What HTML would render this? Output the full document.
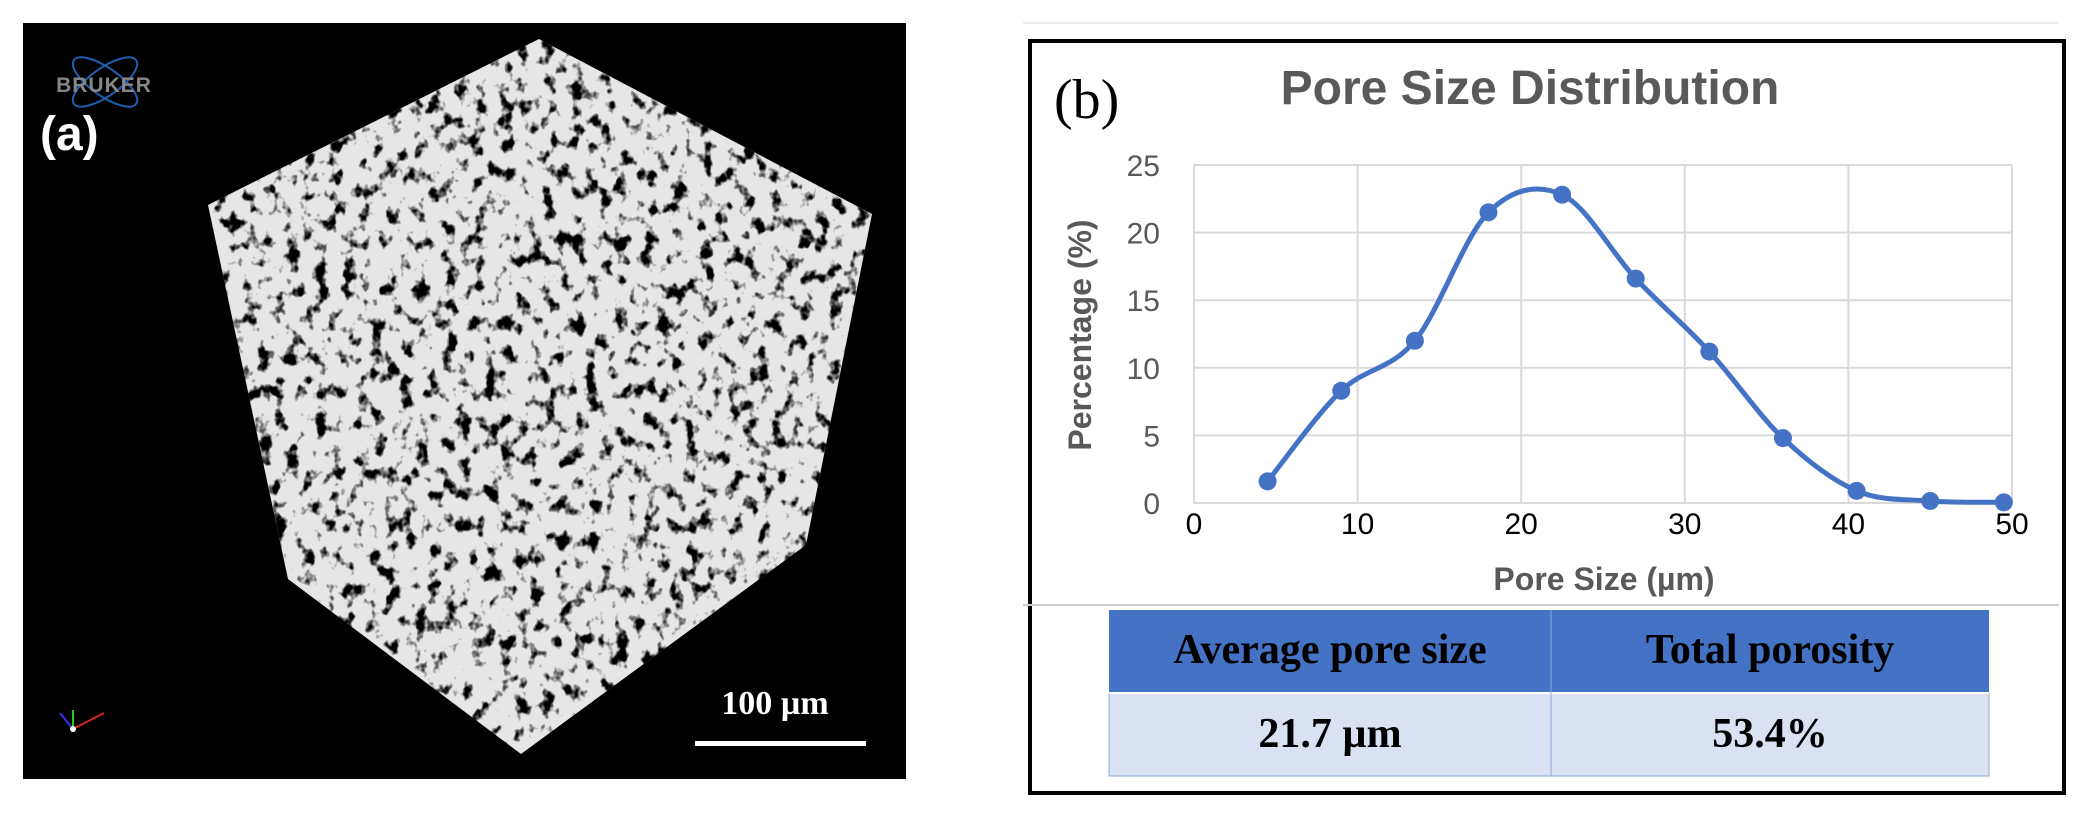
<!DOCTYPE html>
<html><head><meta charset="utf-8"><style>
html,body{margin:0;padding:0;background:#fff;}
body{width:2096px;height:815px;position:relative;overflow:hidden;font-family:"Liberation Sans",sans-serif;}
</style></head><body>
<svg width="2096" height="815" viewBox="0 0 2096 815" xmlns="http://www.w3.org/2000/svg">
<defs>
<filter id="tex" x="0" y="0" width="100%" height="100%">
<feTurbulence type="fractalNoise" baseFrequency="0.07 0.06" numOctaves="3" seed="4" result="n"/>
<feColorMatrix in="n" type="matrix" values="0 0 0 0 0  0 0 0 0 0  0 0 0 0 0  0 0 0 -6 2.75" result="holes"/>
<feComposite in="holes" in2="SourceGraphic" operator="in"/>
</filter>
</defs>
<g>
<rect x="23" y="23" width="883" height="756" fill="#000"/>
<polygon points="539,39 872,214 806,545 521,754 288,579 208,205" fill="#e6e6e6"/>
<polygon points="539,39 872,214 806,545 521,754 288,579 208,205" fill="#000" filter="url(#tex)"/>
<g>
<ellipse cx="105" cy="82" rx="38" ry="14" fill="none" stroke="#1f5fae" stroke-width="2" transform="rotate(35 105 82)"/>
<ellipse cx="105" cy="82" rx="38" ry="14" fill="none" stroke="#1f5fae" stroke-width="2" transform="rotate(-35 105 82)"/>
<text x="104" y="92" font-size="21" font-weight="bold" fill="#888" text-anchor="middle" letter-spacing="1">BRUKER</text>
</g>
<text x="40" y="150" font-size="48" font-weight="bold" fill="#fff">(a)</text>
<text x="775" y="714" font-size="34" font-weight="bold" fill="#fff" font-family="Liberation Serif,serif" text-anchor="middle">100 µm</text>
<rect x="695" y="741" width="171" height="5" fill="#fff"/>
<g stroke-width="2">
<line x1="73" y1="729" x2="73" y2="710" stroke="#2c2"/><line x1="73" y1="729" x2="104" y2="713" stroke="#d22"/><line x1="73" y1="729" x2="60" y2="713" stroke="#33e"/><circle cx="73" cy="729" r="3" fill="#fff"/>
</g>
</g>
<g>
<line x1="1023" y1="23" x2="2059" y2="23" stroke="#eee" stroke-width="2"/>
<rect x="1030" y="41" width="1034" height="752" fill="#fff" stroke="#000" stroke-width="4"/>
<text x="1054" y="118" font-size="56" font-family="Liberation Serif,serif">(b)</text>
<text x="1530" y="104" font-size="48" font-weight="bold" fill="#595959" text-anchor="middle">Pore Size Distribution</text>
<g id="chart"></g>
<text x="1604" y="590" font-size="32" font-weight="bold" fill="#595959" text-anchor="middle">Pore Size (µm)</text>
<text transform="translate(1091 335) rotate(-90)" font-size="32" font-weight="bold" fill="#595959" text-anchor="middle">Percentage (%)</text>
<line x1="1023" y1="605" x2="2059" y2="605" stroke="#d0d0d0" stroke-width="2"/>
<g font-family="Liberation Serif,serif" font-weight="bold" font-size="42" text-anchor="middle">
<rect x="1109" y="610" width="880" height="83" fill="#4472c4"/>
<rect x="1109" y="693" width="880" height="83" fill="#d9e1f2" stroke="#8eaadb" stroke-width="1"/>
<line x1="1109" y1="693" x2="1989" y2="693" stroke="#fff" stroke-width="2"/>
<line x1="1551" y1="610" x2="1551" y2="776" stroke="#8eaadb" stroke-width="1"/>
<text x="1330" y="663">Average pore size</text>
<text x="1770" y="663">Total porosity</text>
<text x="1330" y="747">21.7 µm</text>
<text x="1770" y="747">53.4%</text>
</g>
</g>
</svg>
<script>
const poreSizes=[4.5,9,13.5,18,22.5,27,31.5,36,40.5,45,49.5];
const percentages=[1.6,8.3,12.0,21.5,22.8,16.6,11.2,4.8,0.9,0.15,0.05];
const xTicks=[0,10,20,30,40,50];
const yTicks=[0,5,10,15,20,25];
const NS="http://www.w3.org/2000/svg";
const L=1194,R=2012,T=165,B=503;
const sx=v=>L+(v-0)/(50-0)*(R-L);
const sy=v=>B-(v-0)/(25-0)*(B-T);
const g=document.getElementById('chart');
function mk(t,a){const e=document.createElementNS(NS,t);for(const k in a)e.setAttribute(k,a[k]);g.appendChild(e);return e;}
yTicks.forEach(v=>{
const l=mk('line',{x1:L,x2:R,y1:sy(v),y2:sy(v),stroke:'#d9d9d9','stroke-width':2});


const t=mk('text',{x:1160,y:sy(v)+11,'font-size':30,fill:'#595959','text-anchor':'end'});
t.textContent=v;


});
xTicks.forEach(v=>{
const l=mk('line',{x1:sx(v),x2:sx(v),y1:T,y2:B,stroke:'#d9d9d9','stroke-width':2});


const t=mk('text',{x:sx(v),y:534,'font-size':30,fill:'#000','text-anchor':'middle'});
t.textContent=v;


});
const P=poreSizes.map((x,i)=>[sx(x),sy(percentages[i])]);
let d='M'+P[0][0]+','+P[0][1];
for(let i=0;i<P.length-1;i++){
const p0=P[i-1]||P[i],p1=P[i],p2=P[i+1],p3=P[i+2]||P[i+1];
const c1=[p1[0]+(p2[0]-p0[0])/6,p1[1]+(p2[1]-p0[1])/6];
const c2=[p2[0]-(p3[0]-p1[0])/6,p2[1]-(p3[1]-p1[1])/6];
d+=' C'+c1+' '+c2+' '+p2;
}
const path=mk('path',{d:d,fill:'none',stroke:'#4472c4','stroke-width':5});


P.forEach(p=>{
const c=mk('circle',{cx:p[0],cy:p[1],r:9,fill:'#4472c4'});


});
</script>
</body></html>
